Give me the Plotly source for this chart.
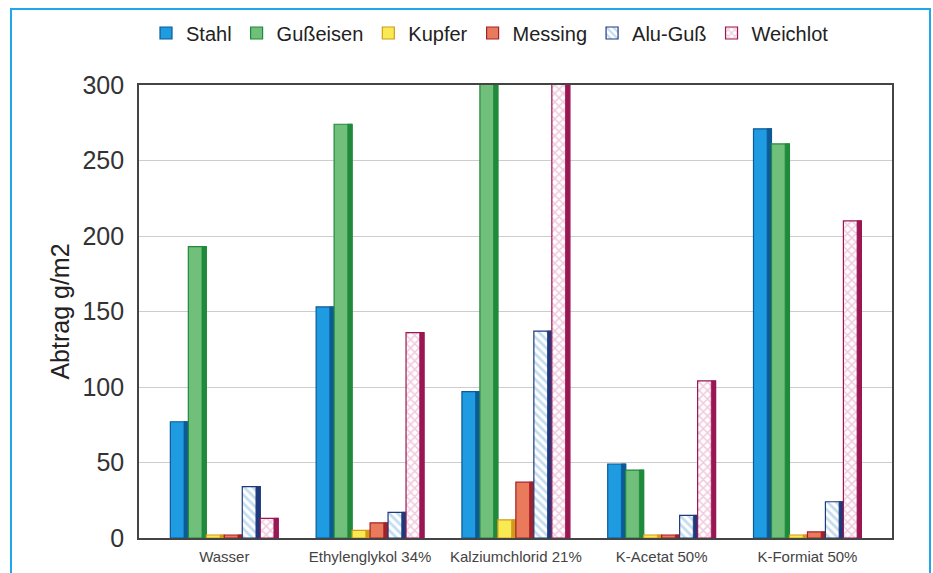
import plotly.graph_objects as go

# Korrosionsabtrag verschiedener Metalle in Kühl-/Enteisungsflüssigkeiten
medien = ["Wasser", "Ethylenglykol 34%", "Kalziumchlorid 21%", "K-Acetat 50%", "K-Formiat 50%"]

stahl = [77, 153, 97, 49, 271]
gusseisen = [193, 274, 310, 45, 261]
kupfer = [2, 5, 12, 2, 2]
messing = [2, 10, 37, 2, 4]
alu_guss = [34, 17, 137, 15, 24]
weichlot = [13, 136, 310, 104, 210]

y_ticks = [0, 50, 100, 150, 200, 250, 300]

# name, werte, frontfarbe, seitenfarbe, muster, musterfarbe
serien = [
    ("Stahl", stahl, "#1f9be2", "#0d5a96", "", ""),
    ("Gußeisen", gusseisen, "#70bf7b", "#1f8a3b", "", ""),
    ("Kupfer", kupfer, "#f7ea52", "#d49a1c", "", ""),
    ("Messing", messing, "#e97a5c", "#a3222a", "", ""),
    ("Alu-Guß", alu_guss, "#ffffff", "#1f3a7c", "\\", "#86b9e2"),
    ("Weichlot", weichlot, "#ffffff", "#9a1753", "x", "#e496bd"),
]

GRUPPE = 0.74                 # Breite einer Balkengruppe (in Kategorien)
bw = GRUPPE / len(serien)     # Breite eines Balkens
SEITE = 0.24                  # Anteil der dunklen Seitenfläche

fig = go.Figure()
for i, (name, werte, farbe, seite, muster, musterfarbe) in enumerate(serien):
    off = -GRUPPE / 2 + i * bw
    marker = dict(color=farbe, line=dict(color=seite, width=1.2))
    if muster:
        marker["pattern"] = dict(shape=muster, fgcolor=musterfarbe, bgcolor="#ffffff",
                                 size=6, solidity=0.45, fillmode="overlay")
    fig.add_trace(go.Bar(name=name, x=medien, y=werte, width=bw, offset=off,
                         marker=marker))
    # dunkle Seitenfläche für den Tiefeneindruck
    fig.add_trace(go.Bar(name=name, x=medien, y=werte, width=bw * SEITE,
                         offset=off + bw * (1 - SEITE), showlegend=False,
                         hoverinfo="skip",
                         marker=dict(color=seite, line=dict(color=seite, width=0.8))))

W, H = 933, 573
L, R, T, B = 139, 892, 85, 538

def px_x(p):
    return (p - L) / (R - L)

def px_y(p):
    return (B - p) / (B - T)

fig.update_layout(
    width=W, height=H,
    margin=dict(l=L, r=W - R, t=T, b=H - B, autoexpand=False),
    paper_bgcolor="#ffffff",
    plot_bgcolor="#ffffff",
    barmode="overlay",
    font=dict(family="Liberation Sans, Arial, sans-serif", color="#222"),
    legend=dict(
        orientation="h",
        x=px_x(490), y=px_y(33),
        xanchor="center", yanchor="middle",
        font=dict(size=20, color="#222"),
        itemwidth=30,
        traceorder="normal",
    ),
    xaxis=dict(
        range=[-0.585, 4.58],
        showgrid=False,
        showline=True, linecolor="#444", linewidth=1.6, mirror=True,
        ticks="", tickfont=dict(size=15, color="#444"),
        ticklabelstandoff=4,
    ),
    yaxis=dict(
        range=[0, 300],
        tickvals=y_ticks,
        showgrid=True, gridcolor="#cdcdcd", gridwidth=1,
        showline=True, linecolor="#444", linewidth=1.6, mirror=True,
        ticks="", tickfont=dict(size=25, color="#333"),
        ticklabelstandoff=8,
        zeroline=False,
        title=dict(text="Abtrag g/m2", font=dict(size=25, color="#222"), standoff=6),
    ),
    shapes=[
        dict(type="rect", xref="paper", yref="paper",
             x0=px_x(11), x1=px_x(930), y0=px_y(600), y1=px_y(9),
             line=dict(color="#1ea7ea", width=2), fillcolor="rgba(0,0,0,0)", layer="below"),
    ],
)

fig.write_html("out.html")
